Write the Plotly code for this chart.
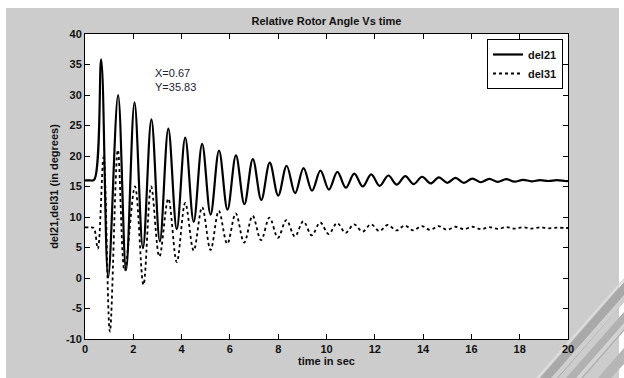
import plotly.graph_objects as go

# ---- data ----
t_del21 = [0, 0.2, 0.38, 0.67, 0.96, 1.37, 1.70, 2.05, 2.40, 2.75, 3.10, 3.45, 3.80, 4.15, 4.50,
           4.85, 5.20, 5.55, 5.90, 6.25, 6.60, 6.95, 7.30, 7.65, 8.00, 8.35, 8.70, 9.05, 9.40,
           9.75, 10.10, 10.45, 10.80, 11.15, 11.50, 11.85, 12.20, 12.56, 12.91, 13.26, 13.61,
           13.96, 14.31, 14.65, 15.00, 15.34, 15.69, 16.04, 16.39, 16.74, 17.09, 17.44, 17.79,
           18.14, 18.49, 18.84, 19.19, 19.54, 19.89, 20.0]
del21 = [16.0, 16.0, 16.1, 35.83, 0.1, 30.0, 1.3, 28.8, 4.9, 26.0, 6.0, 24.5, 8.0, 23.0, 9.2,
         22.0, 10.4, 20.9, 11.2, 20.1, 12.1, 19.5, 12.8, 18.9, 13.5, 18.4, 13.9, 18.0, 14.3,
         17.6, 14.5, 17.4, 14.8, 17.1, 15.0, 17.0, 15.1, 16.8, 15.3, 16.7, 15.4, 16.6, 15.5,
         16.5, 15.6, 16.4, 15.6, 16.3, 15.7, 16.25, 15.75, 16.2, 15.8, 16.1, 15.85, 16.05,
         15.9, 16.05, 15.9, 15.9]

t_del31 = [0, 0.2, 0.36, 0.53, 0.77, 1.03, 1.36, 1.64, 2.07, 2.42, 2.74, 3.08, 3.45, 3.80, 4.15,
           4.50, 4.85, 5.20, 5.54, 5.89, 6.24, 6.59, 6.94, 7.29, 7.64, 7.99, 8.34, 8.69, 9.04,
           9.39, 9.74, 10.09, 10.44, 10.79, 11.14, 11.49, 11.84, 12.19, 12.54, 12.89, 13.24,
           13.59, 13.94, 14.29, 14.64, 14.99, 15.34, 15.69, 16.04, 16.39, 16.74, 17.09, 17.44,
           17.79, 18.14, 18.49, 18.84, 19.19, 19.54, 19.89, 20.0]
del31 = [8.3, 8.3, 8.2, 4.8, 19.8, -8.8, 21.0, 1.2, 15.0, -1.1, 15.0, 3.5, 13.0, 2.6, 12.3,
         4.5, 11.6, 4.6, 11.0, 5.6, 10.6, 5.8, 10.2, 6.2, 9.9, 6.6, 9.5, 6.8, 9.3,
         7.0, 9.1, 7.2, 9.0, 7.4, 8.8, 7.6, 8.8, 7.7, 8.7, 7.8, 8.6,
         7.8, 8.5, 7.9, 8.5, 7.9, 8.4, 8.0, 8.4, 8.0, 8.35, 8.05, 8.35,
         8.1, 8.3, 8.1, 8.3, 8.15, 8.25, 8.2, 8.2]

assert len(t_del21) == len(del21)
assert len(t_del31) == len(del31)

series_names = ["del21", "del31"]
x_ticks = [0, 2, 4, 6, 8, 10, 12, 14, 16, 18, 20]
y_ticks = [-10, -5, 0, 5, 10, 15, 20, 25, 30, 35, 40]
y_tick_text = ["-10", "-5", "0", "5", "10", "15", "20", "25", "30", "35", "40"]
marker_x, marker_y = 0.67, 35.83

W, H = 624, 378
L, R, T, B = 85, 568, 34, 339


def px(xp):
    return (xp - L) / (R - L)


def py(yp):
    return (B - yp) / (B - T)


def poly(points):
    return "M " + " L ".join(f"{px(a):.5f},{py(b):.5f}" for a, b in points) + " Z"


FONT = "Liberation Sans, Arial, sans-serif"
GRAY = "#cccccc"
INK = "#111111"

fig = go.Figure()
fig.add_trace(go.Scatter(x=t_del21, y=del21, name=series_names[0], mode="lines",
                         line=dict(color="black", width=2.2, shape="spline", smoothing=1.0)))
fig.add_trace(go.Scatter(x=t_del31, y=del31, name=series_names[1], mode="lines",
                         line=dict(color="black", width=1.8, dash="dot", shape="spline",
                                   smoothing=1.0)))

axis_common = dict(showline=True, linecolor="black", linewidth=1, mirror="ticks",
                   ticks="inside", ticklen=5, tickcolor="black", showgrid=False,
                   zeroline=False, tickfont=dict(family=FONT, size=11, color=INK,
                                                 weight="bold"))

fig.update_xaxes(range=[0, 20], tickvals=x_ticks,
                 title=dict(text="time in sec", standoff=3,
                            font=dict(family=FONT, size=11, color=INK, weight="bold")),
                 **axis_common)
fig.update_yaxes(range=[-10, 40], tickvals=y_ticks, ticktext=y_tick_text,
                 title=dict(text="del21,del31 (in degrees)", standoff=5,
                            font=dict(family=FONT, size=11, color=INK, weight="bold")),
                 **axis_common)

shapes = []
# white border around the grey window
shapes += [
    dict(type="rect", xref="paper", yref="paper", x0=px(0), x1=px(W), y0=py(0), y1=py(8),
         fillcolor="white", line=dict(width=0), layer="below"),
    dict(type="rect", xref="paper", yref="paper", x0=px(0), x1=px(6), y0=py(0), y1=py(H),
         fillcolor="white", line=dict(width=0), layer="below"),
    dict(type="rect", xref="paper", yref="paper", x0=px(619), x1=px(W), y0=py(0), y1=py(H),
         fillcolor="white", line=dict(width=0), layer="below"),
]
# faint watermark bands at bottom right
for pts, c in [
    ([(536, 378), (624, 278), (624, 281), (539, 378)], "#dddddd"),
    ([(540, 378), (624, 282), (624, 302), (558, 378)], "#a9a9a9"),
    ([(551, 378), (624, 295), (624, 302), (557, 378)], "#cfcfcf"),
    ([(566, 378), (624, 312), (624, 331), (583, 378)], "#b1b1b1"),
    ([(576, 378), (624, 323), (624, 329), (581, 378)], "#d3d3d3"),
    ([(598, 378), (624, 348), (624, 364), (611, 378)], "#b6b6b6"),
]:
    shapes.append(dict(type="path", xref="paper", yref="paper", path=poly(pts),
                       fillcolor=c, line=dict(width=0), layer="below"))
# white plot area over the watermark
shapes.append(dict(type="rect", xref="paper", yref="paper", x0=0, x1=1, y0=0, y1=1,
                   fillcolor="white", line=dict(width=0), layer="below"))

fig.update_layout(
    width=W, height=H, autosize=False,
    margin=dict(l=L, r=W - R, t=T, b=H - B, pad=0),
    paper_bgcolor=GRAY, plot_bgcolor="white",
    font=dict(family=FONT, size=11, color=INK),
    title=dict(text="Relative Rotor Angle Vs time", x=0.5, xref="paper", xanchor="center",
               y=1 - 21 / H, yref="container", yanchor="middle",
               font=dict(family=FONT, size=11, color=INK, weight="bold")),
    legend=dict(x=px(563), xanchor="right", y=py(39), yanchor="top",
                bgcolor="white", bordercolor="black", borderwidth=1,
                font=dict(family=FONT, size=11, color=INK, weight="bold"),
                itemwidth=30, tracegroupgap=0),
    showlegend=True,
    shapes=shapes,
    annotations=[dict(x=2.82, y=32.5, xref="x", yref="y", text=f"X={marker_x}<br>Y={marker_y}",
                      showarrow=False, xanchor="left", yanchor="middle", align="left",
                      font=dict(family=FONT, size=11, color="#222233"))],
)

fig.write_html("out.html")
